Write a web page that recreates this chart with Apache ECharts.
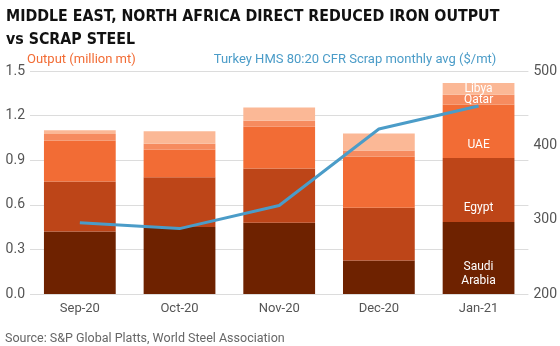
<!DOCTYPE html>
<html>
<head>
<meta charset="utf-8">
<script src="https://cdn.jsdelivr.net/npm/echarts@6/dist/echarts.min.js"></script>
<style>html,body{margin:0;padding:0;background:#fff}#c{width:560px;height:346px}</style>
</head>
<body>
<div id="c"></div>
<script>
var categories = ['Sep-20', 'Oct-20', 'Nov-20', 'Dec-20', 'Jan-21'];
var saudiArabia = [0.42, 0.45, 0.48, 0.225, 0.485];
var egypt = [0.336, 0.335, 0.365, 0.355, 0.43];
var uae = [0.276, 0.185, 0.28, 0.345, 0.36];
var qatar = [0.045, 0.04, 0.04, 0.04, 0.065];
var libya = [0.025, 0.085, 0.09, 0.115, 0.08];
var scrapPrice = [296, 288, 319, 422, 453];
var leftTicks = [0, 0.3, 0.6, 0.9, 1.2, 1.5];
var rightTicks = [200, 300, 400, 500];

var font = 'Roboto';
var colors = ['#6e2200', '#bd4518', '#f26c35', '#f68b5f', '#fbb896'];

function barSeries(name, label, data, color, pos, extra) {
  var last = data.length - 1;
  return {
    name: name, type: 'bar', stack: 'out', barWidth: '72%',
    itemStyle: { color: color },
    data: data.map(function (v, i) {
      if (i !== last) return v;
      return { value: v, label: Object.assign({ show: true, position: pos, formatter: label,
        color: '#fff', fontFamily: font, fontSize: 12, lineHeight: 14 }, extra || {}) };
    })
  };
}

var chart = echarts.init(document.getElementById('c'), null, { renderer: 'canvas' });
chart.setOption({
  animation: false,
  textStyle: { fontFamily: font },
  title: [{
    text: 'MIDDLE EAST, NORTH AFRICA DIRECT REDUCED IRON OUTPUT\nvs SCRAP STEEL',
    left: 1, top: 0,
    textStyle: { fontFamily: "'DejaVu Sans Condensed', Roboto", fontWeight: 'bold', fontSize: 15.8, lineHeight: 23, color: '#111' }
  }, {
    text: 'Source: S&P Global Platts, World Steel Association',
    left: 0, top: 327,
    textStyle: { fontFamily: font, fontWeight: 'normal', fontSize: 12.5, color: '#666' }
  }],
  grid: { left: 30, right: 30, top: 71, bottom: 52 },
  xAxis: {
    type: 'category', data: categories,
    axisLine: { show: false }, axisTick: { show: false },
    axisLabel: { color: '#555', fontSize: 13, margin: 8 }
  },
  yAxis: [{
    type: 'value', min: 0, max: 1.5, interval: 0.3,
    name: 'Output (million mt)', nameLocation: 'end', nameGap: 5, nameMoveOverlap: false,
    nameTextStyle: { color: '#f26c35', fontSize: 13, align: 'left', padding: [0, 0, 0, -3] },
    axisLabel: { color: '#555', fontSize: 14, margin: 5, formatter: function (v) { return v.toFixed(1); } },
    splitLine: { lineStyle: { color: '#dcdcdc' } },
    axisLine: { show: false }, axisTick: { show: false }
  }, {
    type: 'value', min: 200, max: 500, interval: 100,
    name: 'Turkey HMS 80:20 CFR Scrap monthly avg ($/mt)', nameLocation: 'end', nameGap: 5, nameMoveOverlap: false,
    nameTextStyle: { color: '#4b9cc8', fontSize: 13, align: 'right', padding: [0, 32, 0, 0] },
    axisLabel: { color: '#555', fontSize: 14, margin: 5 },
    splitLine: { show: false },
    axisLine: { show: false }, axisTick: { show: false }
  }],
  series: [
    barSeries('Saudi Arabia', 'Saudi\nArabia', saudiArabia, colors[0], 'insideBottom', { distance: 6 }),
    barSeries('Egypt', 'Egypt', egypt, colors[1], 'insideBottom', { distance: 7 }),
    barSeries('UAE', 'UAE', uae, colors[2], 'insideBottom', { distance: 6 }),
    barSeries('Qatar', 'Qatar', qatar, colors[3], 'inside', {}),
    barSeries('Libya', 'Libya', libya, colors[4], 'inside', {}),
    {
      name: 'Scrap', type: 'line', yAxisIndex: 1, data: scrapPrice,
      symbol: 'none', z: 10,
      lineStyle: { color: '#4b9cc8', width: 3 }
    }
  ]
});
</script>
</body>
</html>
